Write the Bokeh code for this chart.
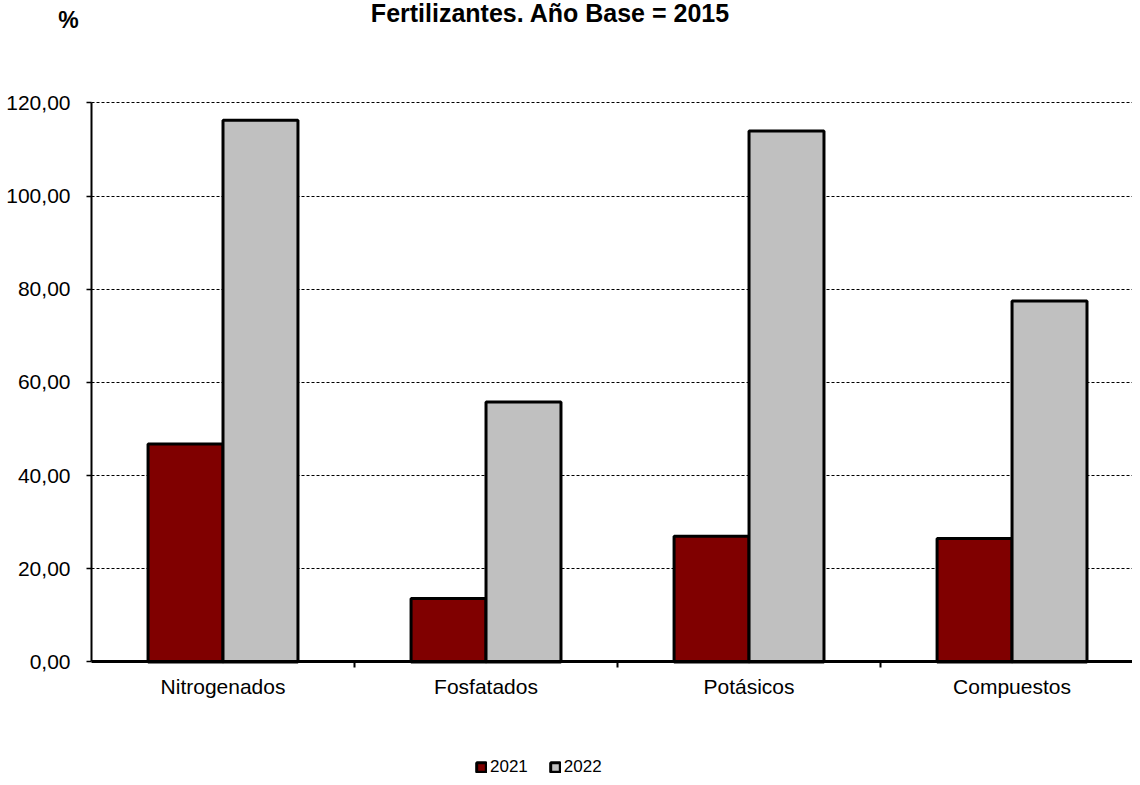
from bokeh.plotting import figure
from bokeh.models import (ColumnDataSource, Range1d, FixedTicker, Legend, LegendItem, Label)
from bokeh.embed import file_html
from bokeh.resources import INLINE

categories = ["Nitrogenados", "Fosfatados", "Potásicos", "Compuestos"]
series_names = ["2021", "2022"]
values_2021 = [46.8, 13.6, 27.0, 26.5]
values_2022 = [116.3, 55.8, 114.0, 77.5]
y_ticks = [0, 20, 40, 60, 80, 100, 120]
y_tick_labels = ["0,00", "20,00", "40,00", "60,00", "80,00", "100,00", "120,00"]
title_text = "Fertilizantes. Año Base = 2015"
unit_text = "%"

colors = ["#800000", "#C0C0C0"]
FONT = "Liberation Sans"

n = len(categories)
centers = [i + 0.5 for i in range(n)]
bw = 0.285
src = ColumnDataSource(dict(
    x1=[c - bw / 2 for c in centers],
    x2=[c + bw / 2 for c in centers],
    v1=values_2021,
    v2=values_2022,
))

W, H = 1132, 777
X_END = 3.958
p = figure(width=W, height=H, output_backend="svg", toolbar_location=None,
           x_range=Range1d(-0.346, X_END), y_range=Range1d(-24.8, 142.0),
           min_border_left=0, min_border_right=0, min_border_top=0,
           min_border_bottom=0)
p.outline_line_color = None
p.background_fill_color = "white"
p.border_fill_color = "white"

r1 = p.vbar(x="x1", top="v1", width=bw, bottom=0, source=src,
            fill_color=colors[0], line_color="black", line_width=3)
r2 = p.vbar(x="x2", top="v2", width=bw, bottom=0, source=src,
            fill_color=colors[1], line_color="black", line_width=3)

# y axis (fixed at x = 0)
ya = p.yaxis[0]
ya.fixed_location = 0
ya.ticker = FixedTicker(ticks=y_ticks)
ya.bounds = (y_ticks[0], y_ticks[-1])
ya.major_label_overrides = {t: l for t, l in zip(y_ticks, y_tick_labels)}
ya.axis_line_width = 2
ya.axis_line_color = "black"
ya.major_tick_in = 0
ya.major_tick_out = 5
ya.major_tick_line_width = 1.5
ya.minor_tick_line_color = None
ya.major_label_standoff = 16
ya.major_label_text_font = FONT
ya.major_label_text_font_size = "21px"
ya.major_label_text_color = "black"

# x axis (fixed at y = 0)
xa = p.xaxis[0]
xa.fixed_location = 0
xa.bounds = (0, X_END)
xa.ticker = FixedTicker(ticks=centers, minor_ticks=list(range(1, n)))
xa.major_label_overrides = {c: nm for c, nm in zip(centers, categories)}
xa.axis_line_width = 3
xa.axis_line_color = "black"
xa.major_tick_line_color = None
xa.major_tick_in = 0
xa.major_tick_out = 0
xa.minor_tick_in = 0
xa.minor_tick_out = 6
xa.minor_tick_line_width = 2
xa.minor_tick_line_color = "black"
xa.major_label_standoff = 7
xa.major_label_text_font = FONT
xa.major_label_text_font_size = "21px"
xa.major_label_text_color = "black"

p.xgrid.grid_line_color = None
p.ygrid.ticker = FixedTicker(ticks=y_ticks[1:])
p.ygrid.grid_line_color = "black"
p.ygrid.grid_line_dash = "3 2"
p.ygrid.grid_line_width = 1.1
try:
    p.ygrid.cross_bounds = (0, X_END)
except Exception:
    pass

# title and unit
p.add_layout(Label(x=1.745, y=139.4, text=title_text, text_align="center",
                   text_baseline="alphabetic", text_font=FONT,
                   text_font_size="25px", text_font_style="bold",
                   text_color="black"))
p.add_layout(Label(x=-0.0875, y=137.9, text=unit_text, text_align="center",
                   text_baseline="alphabetic", text_font=FONT,
                   text_font_size="23px", text_font_style="bold",
                   text_color="black"))

legend = Legend(items=[LegendItem(label=series_names[0], renderers=[r1]),
                       LegendItem(label=series_names[1], renderers=[r2])],
                orientation="horizontal", location=(475, 0),
                glyph_width=12, glyph_height=12, label_standoff=3,
                spacing=21, padding=0, margin=0,
                border_line_color=None, background_fill_alpha=0,
                label_text_font=FONT, label_text_font_size="17px",
                label_text_color="black", label_height=14)
p.add_layout(legend, "center")

open("out.html", "w").write(file_html(p, INLINE))
